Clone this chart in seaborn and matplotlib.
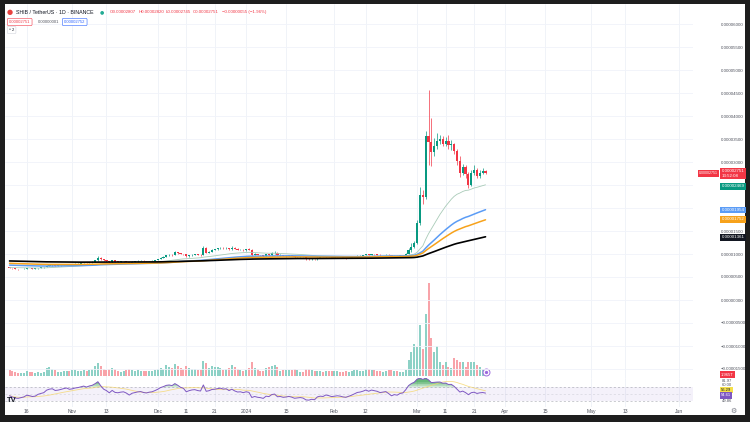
import numpy as np
import pandas as pd
import matplotlib
matplotlib.use("Agg")
import matplotlib.pyplot as plt
import matplotlib.transforms as mtransforms
from matplotlib.patches import Rectangle
import seaborn as sns

# SHIB / USDT daily candles, 10 Oct 2023 -> 25 Mar 2024, prices in 1e-6 USDT
first_open = 7.10

close_oct = [7.02, 6.85, 6.72, 6.68, 6.74, 6.80, 6.95, 6.90, 6.82, 6.85, 7.00, 7.08, 7.15, 7.42, 7.55, 7.60, 7.48, 7.52, 7.60, 7.70, 7.78, 7.70]
high_oct = [7.15, 7.06, 6.90, 6.78, 6.78, 6.85, 7.02, 7.00, 6.95, 6.90, 7.05, 7.15, 7.22, 7.55, 7.85, 7.75, 7.65, 7.58, 7.68, 7.78, 7.90, 7.85]
low_oct = [6.95, 6.78, 6.65, 6.60, 6.64, 6.70, 6.76, 6.85, 6.75, 6.76, 6.82, 6.96, 7.02, 7.10, 7.30, 7.45, 7.40, 7.42, 7.48, 7.55, 7.62, 7.62]

close_nov = [7.75, 7.85, 7.90, 8.00, 8.10, 8.05, 8.20, 8.30, 8.60, 9.20, 8.90, 8.60, 8.45, 8.20, 8.60, 8.35, 8.30, 8.40, 8.45, 8.30, 8.05, 8.30, 8.40, 8.50, 8.55, 8.45, 8.40, 8.50, 8.55, 8.70]
high_nov = [7.85, 7.95, 8.00, 8.08, 8.20, 8.18, 8.28, 8.40, 8.75, 9.55, 9.25, 8.95, 8.70, 8.50, 8.70, 8.65, 8.45, 8.48, 8.55, 8.50, 8.35, 8.38, 8.50, 8.62, 8.65, 8.60, 8.50, 8.58, 8.68, 8.80]
low_nov = [7.62, 7.70, 7.78, 7.86, 7.95, 7.98, 8.00, 8.15, 8.25, 8.55, 8.75, 8.50, 8.35, 8.10, 8.15, 8.28, 8.20, 8.25, 8.35, 8.22, 7.95, 8.00, 8.25, 8.35, 8.45, 8.38, 8.30, 8.36, 8.42, 8.50]

close_dec = [8.90, 9.20, 9.40, 9.70, 9.80, 9.75, 10.35, 10.20, 10.00, 9.90, 9.50, 9.70, 9.85, 9.90, 9.80, 9.75, 11.40, 10.30, 10.50, 10.90, 11.00, 11.20, 11.35, 11.20, 11.30, 11.00, 11.40, 11.10, 10.90, 10.95, 10.80]
high_dec = [9.00, 9.30, 9.55, 9.85, 9.95, 9.95, 10.60, 10.45, 10.25, 10.10, 9.95, 9.80, 9.95, 10.05, 9.98, 9.90, 11.80, 11.50, 10.65, 11.05, 11.15, 11.35, 11.50, 11.45, 11.45, 11.35, 11.70, 11.50, 11.20, 11.10, 11.05]
low_dec = [8.62, 8.85, 9.12, 9.35, 9.60, 9.60, 9.70, 10.05, 9.90, 9.80, 9.30, 9.40, 9.60, 9.75, 9.70, 9.65, 9.70, 10.20, 10.25, 10.40, 10.80, 10.95, 11.10, 11.10, 11.10, 10.90, 10.95, 11.00, 10.80, 10.80, 10.70]

close_jan = [11.00, 10.90, 9.80, 10.00, 9.80, 9.70, 9.50, 9.90, 9.80, 10.20, 10.30, 9.70, 9.75, 9.55, 9.60, 9.70, 9.55, 9.30, 9.35, 9.40, 9.30, 8.90, 8.85, 8.95, 8.85, 9.20, 9.30, 9.25, 9.45, 9.35, 9.20]
high_jan = [11.10, 11.20, 11.00, 10.15, 10.05, 9.85, 9.80, 10.00, 10.10, 10.40, 10.75, 10.40, 9.90, 9.85, 9.75, 9.85, 9.75, 9.60, 9.45, 9.50, 9.48, 9.35, 9.05, 9.10, 9.00, 9.28, 9.40, 9.38, 9.55, 9.55, 9.40]
low_jan = [10.70, 10.80, 9.20, 9.70, 9.70, 9.62, 9.45, 9.35, 9.60, 9.65, 10.05, 9.60, 9.60, 9.50, 9.45, 9.55, 9.48, 9.20, 9.22, 9.30, 9.25, 8.75, 8.70, 8.78, 8.75, 8.80, 9.12, 9.15, 9.20, 9.28, 9.10]

close_feb = [9.25, 9.30, 9.25, 9.15, 9.10, 9.20, 9.30, 9.45, 9.60, 9.65, 9.75, 9.90, 9.80, 9.95, 9.90, 9.85, 9.75, 9.80, 9.85, 9.70, 9.50, 9.60, 9.55, 9.70, 9.75, 10.10, 10.90, 11.60, 12.30]
high_feb = [9.35, 9.40, 9.35, 9.30, 9.22, 9.28, 9.40, 9.55, 9.70, 9.80, 9.85, 10.00, 9.98, 10.05, 10.05, 9.98, 9.90, 9.88, 9.95, 9.90, 9.75, 9.70, 9.68, 9.78, 9.85, 10.25, 11.20, 12.40, 12.90]
low_feb = [9.10, 9.20, 9.18, 9.08, 9.00, 9.05, 9.15, 9.25, 9.40, 9.52, 9.60, 9.70, 9.70, 9.75, 9.80, 9.75, 9.65, 9.70, 9.75, 9.60, 9.40, 9.45, 9.48, 9.50, 9.62, 9.70, 10.00, 10.50, 11.30]

close_mar = [16.70, 22.80, 22.30, 35.60, 34.30, 32.20, 33.40, 34.50, 34.90, 34.00, 34.60, 33.60, 33.90, 32.50, 30.20, 27.60, 28.90, 27.40, 25.00, 27.60, 28.30, 26.90, 27.70, 28.07, 27.51]
high_mar = [17.40, 24.50, 23.90, 36.80, 45.70, 39.50, 35.20, 36.20, 35.80, 35.60, 35.40, 35.90, 34.80, 34.20, 32.90, 31.20, 29.60, 29.30, 27.80, 28.30, 29.40, 28.60, 28.20, 28.60, 28.20]
low_mar = [12.10, 16.40, 20.90, 21.90, 29.40, 29.20, 31.30, 32.80, 33.90, 33.50, 33.40, 32.80, 32.60, 31.80, 29.40, 26.80, 27.10, 26.60, 24.40, 24.80, 27.10, 26.50, 26.60, 27.40, 27.45]

# volume, trillions of SHIB
vol_oct = [2.6, 2.4, 2.0, 1.6, 1.2, 1.3, 2.2, 1.9, 1.7, 1.5, 2.0, 1.6, 1.8, 3.5, 4.2, 3.0, 2.6, 1.8, 1.9, 2.3, 2.5, 2.1]
vol_nov = [2.6, 2.8, 2.4, 2.2, 2.7, 2.5, 2.9, 3.1, 4.8, 6.2, 4.5, 3.3, 2.9, 3.2, 3.6, 3.0, 2.4, 2.0, 2.1, 2.6, 3.0, 2.9, 2.5, 2.6, 2.2, 2.1, 2.4, 2.3, 2.5, 2.9]
vol_dec = [3.3, 3.5, 3.4, 4.9, 4.2, 3.8, 5.6, 4.6, 3.6, 3.0, 4.8, 3.7, 3.4, 3.2, 2.9, 2.6, 6.8, 6.0, 3.8, 4.4, 4.1, 4.0, 3.7, 2.9, 3.1, 3.6, 4.9, 4.0, 3.2, 2.6, 2.5]
vol_jan = [2.8, 3.9, 6.5, 3.6, 3.2, 2.4, 2.3, 3.8, 4.2, 4.4, 5.2, 4.1, 2.5, 2.6, 2.8, 2.9, 2.6, 3.0, 2.7, 1.9, 1.8, 3.2, 3.4, 2.6, 2.3, 2.5, 2.1, 1.9, 2.3, 2.5, 2.4]
vol_feb = [2.3, 2.2, 1.7, 1.8, 2.1, 2.0, 2.2, 2.6, 2.8, 2.4, 2.3, 3.0, 3.1, 2.8, 2.6, 2.5, 2.1, 1.9, 2.4, 2.7, 2.9, 2.3, 2.1, 1.9, 2.0, 2.7, 7.3, 11.0, 14.7]
vol_mar = [13.2, 23.5, 12.4, 28.8, 42.9, 17.3, 11.2, 13.8, 6.6, 5.1, 6.6, 4.3, 3.5, 8.1, 7.4, 6.6, 6.6, 4.3, 6.6, 6.6, 6.6, 5.1, 4.0, 3.1, 1.965]

# moving averages: (seed value on 9 Oct, span, colour, width)
ma_specs = [(7.05, 33, "#a9cbb8", 0.6), (7.6, 72, "#5b9cf6", 1.1), (8.0, 100, "#f7a21b", 1.1), (8.5, 200, "#000000", 1.2)]
rsi_seed_gain, rsi_seed_loss = 0.07, 0.075

tick_dates = ["2023-10-16", "2023-11-01", "2023-11-13", "2023-12-01", "2023-12-11", "2023-12-21",
              "2024-01-01", "2024-01-15", "2024-02-01", "2024-02-12", "2024-03-01", "2024-03-11",
              "2024-03-21", "2024-04-01", "2024-04-15", "2024-05-01", "2024-05-13", "2024-06-01"]
tick_labels = ["16", "Nov", "13", "Dec", "11", "21", "2024", "15", "Feb", "12",
               "Mar", "11", "21", "Apr", "15", "May", "13", "Jun"]
price_ticks = [-15, -10, -5, 0, 5, 10, 15, 20, 25, 30, 35, 40, 45, 50, 55, 60]
hidden_ticks = [20, 25]  # covered by the scale markers

# right-scale markers: (text, value, colour)
price_marks = [("0.00002751\n13:52:08", 27.51, "#f23645"), ("0.00002469", 24.69, "#089981"),
               ("0.00001954", 19.54, "#5b9cf6"), ("0.00001752", 17.52, "#f7a21b"),
               ("0.00001361", 13.61, "#131722")]

UP, DOWN = "#089981", "#f23645"
VUP, VDOWN = "#8dd1c6", "#f8a3a9"
W, H = 750, 422


def fx(x):
    return x / W


def fy(y):
    return 1 - y / H


def main():
    dates = pd.date_range("2023-10-10", "2024-03-25", freq="D")
    close = np.array(close_oct + close_nov + close_dec + close_jan + close_feb + close_mar)
    high = np.array(high_oct + high_nov + high_dec + high_jan + high_feb + high_mar)
    low = np.array(low_oct + low_nov + low_dec + low_jan + low_feb + low_mar)
    volume = np.array(vol_oct + vol_nov + vol_dec + vol_jan + vol_feb + vol_mar)
    opens = np.concatenate([[first_open], close[:-1]])
    up = close >= opens

    sns.set_theme(style="white")
    plt.rcParams["font.family"] = ["Liberation Sans", "DejaVu Sans"]

    fig = plt.figure(figsize=(7.5, 4.22), dpi=100, facecolor="#1e1e1e")
    fig.add_artist(Rectangle((fx(5), fy(415)), 740 / W, 411 / H, transform=fig.transFigure,
                             facecolor="white", edgecolor="none", zorder=0))

    main_rect = [fx(5), fy(378), 688 / W, 374 / H]
    ax_vol = fig.add_axes(main_rect)
    ax = fig.add_axes(main_rect, sharex=ax_vol)
    ax_rsi = fig.add_axes([fx(5), fy(407), 688 / W, 29 / H], sharex=ax)
    for a in (ax_vol, ax, ax_rsi):
        a.patch.set_visible(False)
        sns.despine(ax=a, left=True, bottom=True)

    x0 = pd.Timestamp("2024-01-01") - pd.Timedelta(days=84.6)
    x1 = pd.Timestamp("2024-01-01") + pd.Timedelta(days=156.8)
    ax.set_xlim(x0, x1)
    ticks = pd.to_datetime(tick_dates)
    ax_rsi.set_xticks(ticks)
    ax_rsi.set_xticklabels(tick_labels)
    ax_rsi.tick_params(axis="x", length=0, pad=1.5, labelsize=3.6, labelcolor="#50535e")
    ax.tick_params(axis="x", labelbottom=False, length=0)
    ax_vol.tick_params(axis="x", labelbottom=False, length=0)
    for a in (ax_vol, ax_rsi):
        a.grid(axis="x", color="#eef1f7", lw=0.6)

    # volume overlay
    vmax = volume.max()
    per_px = vmax / 93
    ax_vol.bar(dates, volume, width=0.7, color=np.where(up, VUP, VDOWN), linewidth=0, zorder=2)
    ax_vol.set_ylim(-2 * per_px, 372 * per_px)
    ax_vol.set_yticks([])
    ax_vol.plot([dates[-1]], [volume[-1]], marker="o", ms=5, mfc="white", mec="#9c6ade", mew=0.7, zorder=4)
    ax_vol.plot([dates[-1]], [volume[-1]], marker="o", ms=1.4, color="#9c6ade", zorder=5)

    # price
    ax.set_ylim((300 - 378) / 4.6, (300 - 4) / 4.6)
    ax.set_yticks(price_ticks)
    ax.set_yticklabels(["" if v in hidden_ticks else f"{v * 1e-6:.8f}".replace("-", "\u2212")
                        for v in price_ticks])
    ax.yaxis.tick_right()
    ax.tick_params(axis="y", length=0, pad=20, labelsize=3.2, labelcolor="#50535e")
    ax.grid(axis="y", color="#f0f3fa", lw=0.6)

    colors = np.where(up, UP, DOWN)
    ax.vlines(dates, low, high, colors=colors, lw=0.5, zorder=3)
    ax.bar(dates, np.maximum(np.abs(close - opens), 0.07), bottom=np.minimum(opens, close),
           width=0.75, color=colors, linewidth=0, zorder=4)

    for seed, span, col, lw in ma_specs:
        ema = pd.Series(np.concatenate([[seed], close])).ewm(span=span, adjust=False).mean().to_numpy()[1:]
        sns.lineplot(x=dates, y=ema, ax=ax, color=col, linewidth=lw, zorder=5)
    ax.set_xlabel("")
    ax.set_ylabel("")

    trans = mtransforms.blended_transform_factory(ax.transAxes, ax.transData)
    for text, val, col in price_marks:
        ax.annotate(text, xy=(1, val), xycoords=trans, xytext=(20.5, 0), textcoords="offset points",
                    ha="left", va="center", fontsize=3.2, color="white", linespacing=1.1,
                    bbox=dict(boxstyle="square,pad=0.3", fc=col, ec="none"),
                    annotation_clip=False, zorder=10)
    ax.annotate("0.00002751", xy=(1, 27.51), xycoords=trans, xytext=(4.5, 0), textcoords="offset points",
                ha="left", va="center", fontsize=2.6, color="white",
                bbox=dict(boxstyle="square,pad=0.3", fc="#f23645", ec="none"),
                annotation_clip=False, zorder=10)

    # RSI 14 with a 14-day average
    deltas = np.diff(np.concatenate([[first_open], close]))
    ag, al = rsi_seed_gain, rsi_seed_loss
    rsi = []
    for d in deltas:
        ag = (ag * 13 + max(d, 0)) / 14
        al = (al * 13 + max(-d, 0)) / 14
        rsi.append(100 - 100 / (1 + ag / al))
    rsi = np.array(rsi)
    rsi_ma = pd.Series(rsi).rolling(14, min_periods=1).mean().to_numpy()

    ax_rsi.set_ylim(14, 97)
    ax_rsi.set_yticks([])
    ax_rsi.axhspan(30, 70, color="#7e57c2", alpha=0.08, lw=0)
    for lvl, alp in ((70, 0.7), (50, 0.3), (30, 0.7)):
        ax_rsi.axhline(lvl, color="#9598a1", lw=0.5, ls=(0, (3, 3)), alpha=alp)
    for thr, alp in ((70, 0.22), (75, 0.25), (80, 0.3), (85, 0.35)):
        ax_rsi.fill_between(dates, thr, rsi, where=rsi > thr, interpolate=True,
                            color="#2e9e48", alpha=alp, lw=0)
    sns.lineplot(x=dates, y=rsi_ma, ax=ax_rsi, color="#f5d76e", linewidth=0.6, alpha=0.8)
    sns.lineplot(x=dates, y=rsi, ax=ax_rsi, color="#7e57c2", linewidth=0.7)
    ax_rsi.set_xlabel("")
    ax_rsi.set_ylabel("")

    # scale labels of the lower panes
    fig.text(fx(721), fy(374.5), "1.965T", fontsize=3.0, color="white", va="center",
             bbox=dict(boxstyle="square,pad=0.3", fc="#f23645", ec="none"))
    for y, t in ((380.5, "81.97"), (385.5, "60.00"), (400.5, "49.86")):
        fig.text(fx(722), fy(y), t, fontsize=3.0, color="#50535e", va="center")
    fig.text(fx(721), fy(390), "56.29", fontsize=3.0, color="#131722", va="center",
             bbox=dict(boxstyle="square,pad=0.3", fc="#f5e04a", ec="none"))
    fig.text(fx(721), fy(395.5), "54.61", fontsize=3.0, color="white", va="center",
             bbox=dict(boxstyle="square,pad=0.3", fc="#7e57c2", ec="none"))
    fig.text(fx(733), fy(411), "\u2699", fontsize=5, color="#787b86", ha="center", va="center",
             family="DejaVu Sans")
    fig.text(fx(7), fy(400), "TV", fontsize=5.5, weight="bold", color="#131722", va="center")

    # header
    fig.text(fx(7), fy(12), "\u25cf", fontsize=5, color="#e8423f", va="center", family="DejaVu Sans")
    fig.text(fx(16), fy(12), "SHIB / TetherUS \u00b7 1D \u00b7 BINANCE", fontsize=3.8, color="#131722", va="center")
    fig.text(fx(100), fy(12), "\u25cf", fontsize=3.5, color="#22ab94", va="center", family="DejaVu Sans")
    for x, t in ((110, "O0.00002807"), (139, "H0.00002820"), (166, "L0.00002745"),
                 (193, "C0.00002751"), (222, "\u22120.00000055 (\u22121.96%)")):
        fig.text(fx(x), fy(12), t, fontsize=3.2, color="#f23645", va="center")
    fig.text(fx(9), fy(22), "0.00002751", fontsize=3.0, color="#f23645", va="center",
             bbox=dict(boxstyle="round,pad=0.4,rounding_size=0.3", fc="white", ec="#f23645", lw=0.4))
    fig.text(fx(38), fy(22), "0.00000001", fontsize=3.0, color="#50535e", va="center")
    fig.text(fx(64), fy(22), "0.00002752", fontsize=3.0, color="#2962ff", va="center",
             bbox=dict(boxstyle="round,pad=0.4,rounding_size=0.3", fc="white", ec="#2962ff", lw=0.4))
    fig.text(fx(9), fy(30), "^ 2", fontsize=3.0, color="#131722", va="center",
             bbox=dict(boxstyle="round,pad=0.4,rounding_size=0.3", fc="white", ec="#d1d4dc", lw=0.4))

    fig.savefig("out.png", dpi=100, facecolor=fig.get_facecolor())


if __name__ == "__main__":
    main()
